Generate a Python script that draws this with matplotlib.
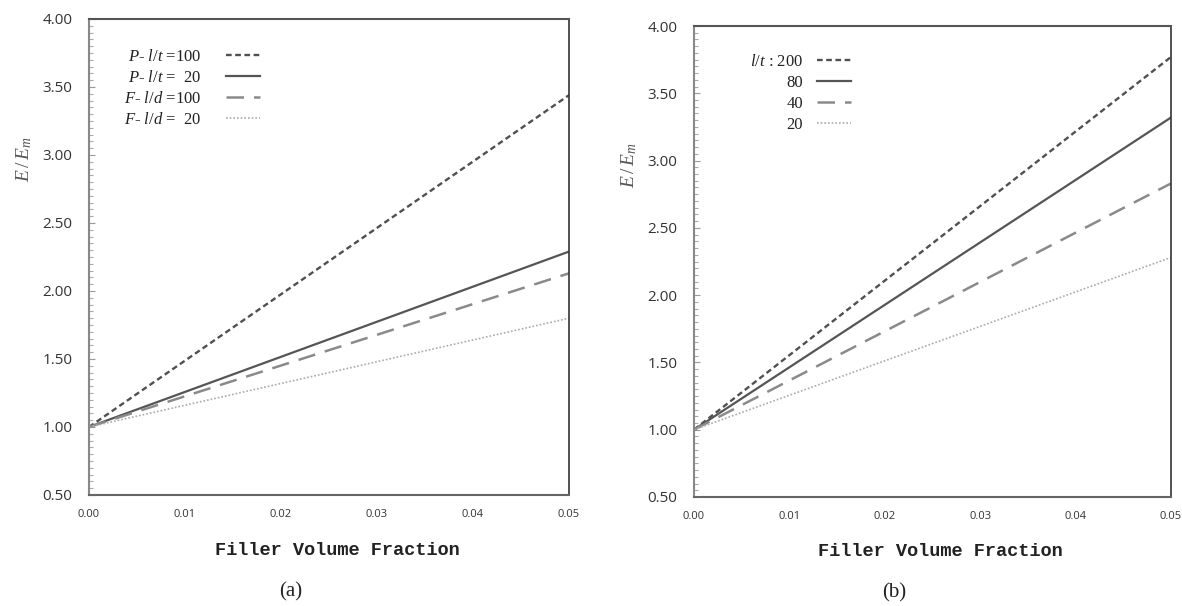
import numpy as np
import matplotlib
matplotlib.use('Agg')
from matplotlib import pyplot as plt
from matplotlib.ticker import MultipleLocator, FormatStrFormatter

plt.rcParams['mathtext.fontset'] = 'custom'
plt.rcParams['mathtext.rm'] = 'Liberation Serif'
plt.rcParams['mathtext.it'] = 'Liberation Serif:italic'
plt.rcParams['font.family'] = ['Open Sans', 'DejaVu Sans']

#~~ data (filler volume fraction vs E/Em)
vf = [0.0, 0.05]

# panel (a): platelets (P) and fibres (F)
labels_a = [r'$P$- $l/t$ =100', r'$P$- $l/t$ =  20', r'$F$- $l/d$ =100', r'$F$- $l/d$ =  20']
p100 = [1.0, 3.44]
p20 = [1.0, 2.29]
f100 = [1.0, 2.13]
f20 = [1.0, 1.80]

# panel (b): platelets, aspect ratio l/t
labels_b = [r'$l/t$ : 200', '80', '40', '20']
lt200 = [1.0, 3.77]
lt80 = [1.0, 3.32]
lt40 = [1.0, 2.83]
lt20 = [1.0, 2.28]

xticks = [0.0, 0.01, 0.02, 0.03, 0.04, 0.05]

#~~ line styles: short dash, solid, long dash, dotted
styles = [dict(color='#505050', lw=1.7, ls=(0, (2.4, 1.5))),
          dict(color='#555555', lw=1.6, ls='-'),
          dict(color='#8a8a8a', lw=1.8, ls=(0, (7, 4))),
          dict(color='#aaaaaa', lw=1.2, ls=(0, (1, 1.2)))]

fig = plt.figure(figsize=(11.82, 6.06), dpi=100)
ax_a = fig.add_axes([89/1182, 1-495/606, 480/1182, 476/606])
ax_b = fig.add_axes([694/1182, 1-497/606, 477/1182, 471/606])


def style_axis(ax):
    ax.set_xlim(0.0, 0.05)
    ax.set_ylim(0.5, 4.0)
    ax.set_xticks(xticks)
    ax.xaxis.set_major_formatter(FormatStrFormatter('%.2f'))
    ax.yaxis.set_major_locator(MultipleLocator(0.5))
    ax.yaxis.set_minor_locator(MultipleLocator(0.05))
    ax.yaxis.set_major_formatter(FormatStrFormatter('%.2f'))
    ax.tick_params(axis='x', length=0, pad=10, labelsize=8, labelcolor='#333333')
    ax.tick_params(axis='y', which='major', direction='in', length=4, width=0.8,
                   color='#999999', pad=12, labelsize=11, labelcolor='#333333')
    ax.tick_params(axis='y', which='minor', direction='in', length=3, width=0.8, color='#aaaaaa')
    ax.spines['left'].set_color('#888888')
    ax.spines['left'].set_linewidth(1.5)
    ax.spines['bottom'].set_color('#666666')
    ax.spines['bottom'].set_linewidth(1.5)
    ax.spines['top'].set_color('#555555')
    ax.spines['top'].set_linewidth(1.5)
    ax.spines['right'].set_color('#333333')
    ax.spines['right'].set_linewidth(1.2)
    ax.set_xlabel('Filler Volume Fraction', family='Liberation Mono', weight='bold',
                  fontsize=13.4, color='#222222')
    ax.xaxis.set_label_coords(0.517, -0.098)
    ax.set_ylabel(r'$E\,/\,E_m$', fontsize=14, color='#555555')
    ax.yaxis.set_label_coords(-0.115, 0.705)


for ax, series, labels, leg_xy, pad, tag in [
        (ax_a, [p100, p20, f100, f20], labels_a, (0.073, 0.937), 1.5, '(a)'),
        (ax_b, [lt200, lt80, lt40, lt20], labels_b, (0.117, 0.941), 0.85, '(b)')]:
    for vals, st, lab in zip(series, styles, labels):
        ax.plot(vf, vals, label=lab, **st)
    style_axis(ax)
    leg = ax.legend(loc='upper left', bbox_to_anchor=leg_xy, frameon=False,
                    markerfirst=False, handlelength=2.05, handletextpad=pad,
                    labelspacing=0.3, borderpad=0, borderaxespad=0,
                    prop={'family': 'Liberation Serif', 'size': 12})
    for t in leg.get_texts():
        t.set_color('#222222')
    ax.text(0.42, -0.203, tag, transform=ax.transAxes, ha='center', va='center',
            family='Liberation Serif', fontsize=15, color='#222222')

plt.savefig('out.png', dpi=100)
plt.close()
